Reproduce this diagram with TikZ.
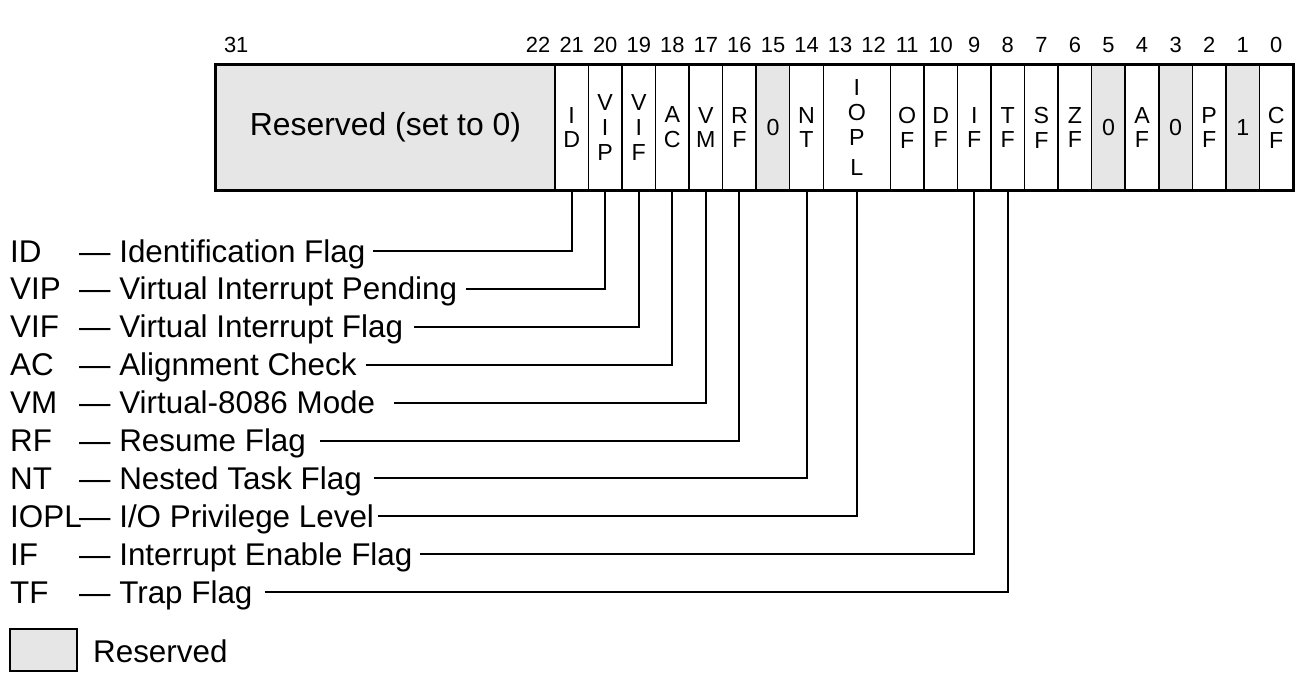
\documentclass[tikz,border=0pt]{standalone}
\usepackage{fontspec}
\setmainfont{Liberation Sans}
\usepackage{xcolor}
\definecolor{reservedColor}{HTML}{E6E6E6}
\definecolor{cellColor}{HTML}{FFFFFF}
\definecolor{linkColor}{HTML}{000000}
\def\bitFont{\fontsize{22}{26}\selectfont}
\def\cellFont{\fontsize{23.3}{25}\selectfont}
\def\rsvFont{\fontsize{32}{38}\selectfont}
\def\textFont{\fontsize{31.5}{36}\selectfont}

\begin{document}
\begin{tikzpicture}[x=1bp,y=-1bp,
  cell/.style={draw, line width=1.5bp, fill=cellColor, inner sep=0pt,
    minimum width=33.55bp, minimum height=125bp, align=center, font=\cellFont},
  rsvcell/.style={cell, fill=reservedColor},
  bitnum/.style={anchor=base, inner sep=0pt, font=\bitFont},
  flagname/.style={anchor=base west, inner sep=0pt, text height=22bp,
    text depth=0pt, font=\textFont},
  link/.style={draw=linkColor, line width=2bp}]

% margin
\useasboundingbox (0,0) rectangle (1309,685);

% register layer
\begin{scope}
\node[rsvcell, minimum width=339bp, font=\rsvFont] (rsv) at (385.5, 127.5) {Reserved (set to 0)};
\node[cell] (bID) at (571.7, 127.5) {I\\D};
\node[cell] (bVIP) at (605.2, 127.5) {V\\I\\P};
\node[cell] (bVIF) at (638.8, 127.5) {V\\I\\F};
\node[cell] (bAC) at (672.3, 127.5) {A\\C};
\node[cell] (bVM) at (705.9, 127.5) {V\\M};
\node[cell] (bRF) at (739.4, 127.5) {R\\F};
\node[rsvcell] (b15) at (773.0, 127.5) {0};
\node[cell] (bNT) at (806.5, 127.5) {N\\T};
\node[cell, minimum width=67.1bp] (bIOPL) at (856.9, 127.5) {I\\O\\P\\[5bp]L};
\node[cell] (bOF) at (907.2, 127.5) {O\\F};
\node[cell] (bDF) at (940.7, 127.5) {D\\F};
\node[cell] (bIF) at (974.3, 127.5) {I\\F};
\node[cell] (bTF) at (1007.8, 127.5) {T\\F};
\node[cell] (bSF) at (1041.4, 127.5) {S\\F};
\node[cell] (bZF) at (1074.9, 127.5) {Z\\F};
\node[rsvcell] (b5) at (1108.5, 127.5) {0};
\node[cell] (bAF) at (1142.0, 127.5) {A\\F};
\node[rsvcell] (b3) at (1175.6, 127.5) {0};
\node[cell] (bPF) at (1209.1, 127.5) {P\\F};
\node[rsvcell] (b1) at (1242.7, 127.5) {1};
\node[cell] (bCF) at (1276.2, 127.5) {C\\F};
\draw[line width=2.5bp] (rsv.north west) rectangle (bCF.south east);
\end{scope}

% bit numbers
\begin{scope}
\node[bitnum] (n31) at (236.2, 53) {31};
\node[bitnum] (n22) at (538.1, 53) {22};
\node[bitnum] (n21) at (571.7, 53) {21};
\node[bitnum] (n20) at (605.2, 53) {20};
\node[bitnum] (n19) at (638.8, 53) {19};
\node[bitnum] (n18) at (672.3, 53) {18};
\node[bitnum] (n17) at (705.9, 53) {17};
\node[bitnum] (n16) at (739.4, 53) {16};
\node[bitnum] (n15) at (773.0, 53) {15};
\node[bitnum] (n14) at (806.5, 53) {14};
\node[bitnum] (n13) at (840.1, 53) {13};
\node[bitnum] (n12) at (873.6, 53) {12};
\node[bitnum] (n11) at (907.2, 53) {11};
\node[bitnum] (n10) at (940.7, 53) {10};
\node[bitnum] (n9) at (974.3, 53) {9};
\node[bitnum] (n8) at (1007.8, 53) {8};
\node[bitnum] (n7) at (1041.4, 53) {7};
\node[bitnum] (n6) at (1074.9, 53) {6};
\node[bitnum] (n5) at (1108.5, 53) {5};
\node[bitnum] (n4) at (1142.0, 53) {4};
\node[bitnum] (n3) at (1175.6, 53) {3};
\node[bitnum] (n2) at (1209.1, 53) {2};
\node[bitnum] (n1) at (1242.7, 53) {1};
\node[bitnum] (n0) at (1276.2, 53) {0};
\end{scope}

% label layer
\begin{scope}
\node[flagname] (aID) at (10, 262.0) {ID};
\node[flagname] (dID) at (79, 262.0) {— Identification Flag};
\node[flagname] (aVIP) at (10, 299.9) {VIP};
\node[flagname] (dVIP) at (79, 299.9) {— Virtual Interrupt Pending};
\node[flagname] (aVIF) at (10, 337.8) {VIF};
\node[flagname] (dVIF) at (79, 337.8) {— Virtual Interrupt Flag};
\node[flagname] (aAC) at (10, 375.7) {AC};
\node[flagname] (dAC) at (79, 375.7) {— Alignment Check};
\node[flagname] (aVM) at (10, 413.6) {VM};
\node[flagname] (dVM) at (79, 413.6) {— Virtual-8086 Mode};
\node[flagname] (aRF) at (10, 451.5) {RF};
\node[flagname] (dRF) at (79, 451.5) {— Resume Flag};
\node[flagname] (aNT) at (10, 489.4) {NT};
\node[flagname] (dNT) at (79, 489.4) {— Nested Task Flag};
\node[flagname] (aIOPL) at (10, 527.3) {IOPL};
\node[flagname] (dIOPL) at (79, 527.3) {— I/O Privilege Level};
\node[flagname] (aIF) at (10, 565.2) {IF};
\node[flagname] (dIF) at (79, 565.2) {— Interrupt Enable Flag};
\node[flagname] (aTF) at (10, 603.1) {TF};
\node[flagname] (dTF) at (79, 603.1) {— Trap Flag};
\end{scope}

% link layer
\begin{scope}
\draw[link] ([xshift=8]dID.east) -| (bID.south);
\draw[link] ([xshift=9]dVIP.east) -| (bVIP.south);
\draw[link] ([xshift=11]dVIF.east) -| (bVIF.south);
\draw[link] ([xshift=9]dAC.east) -| (bAC.south);
\draw[link] ([xshift=19]dVM.east) -| (bVM.south);
\draw[link] ([xshift=14]dRF.east) -| (bRF.south);
\draw[link] ([xshift=12]dNT.east) -| (bNT.south);
\draw[link] ([xshift=4]dIOPL.east) -| (bIOPL.south);
\draw[link] ([xshift=7]dIF.east) -| (bIF.south);
\draw[link] ([xshift=12]dTF.east) -| (bTF.south);
\end{scope}

% key
\begin{scope}
\node[draw, line width=2bp, fill=reservedColor, minimum width=67bp, minimum height=42bp] (keyBox) at (43.5, 650) {};
\node[flagname] (keyText) at (93, 662) {Reserved};
\end{scope}

\end{tikzpicture}
\end{document}
